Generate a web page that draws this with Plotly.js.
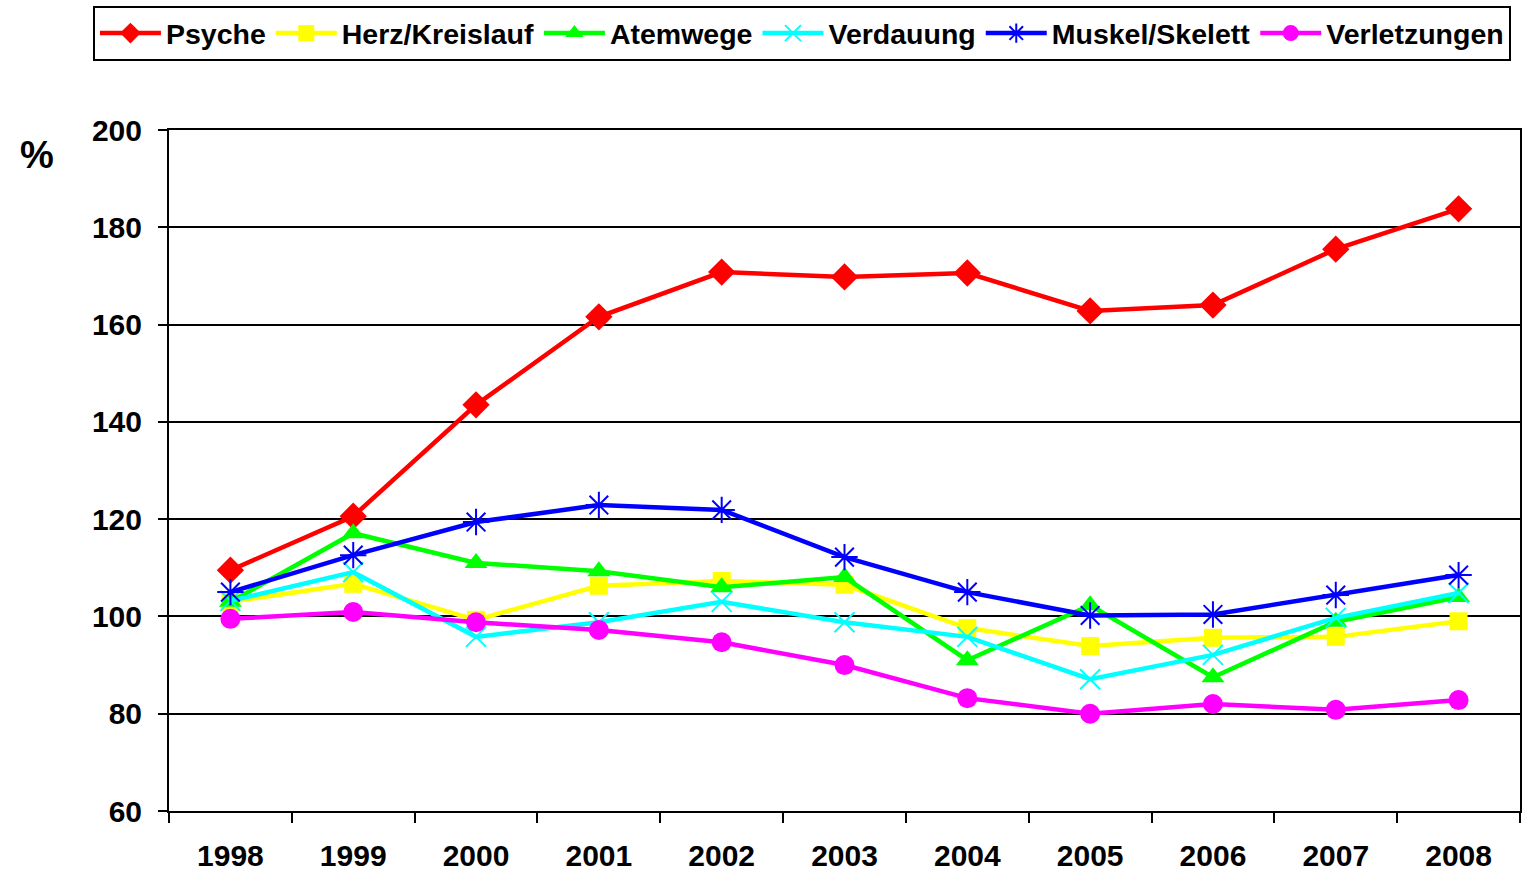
<!DOCTYPE html>
<html>
<head>
<meta charset="utf-8">
<script src="https://cdn.plot.ly/plotly-3.0.1.min.js"></script>
<style>
html,body{margin:0;padding:0;background:#fff;}
#chart{width:1522px;height:872px;}
</style>
</head>
<body>
<div id="chart"></div>
<script>
const years = ["1998","1999","2000","2001","2002","2003","2004","2005","2006","2007","2008"];
const psyche = [109.5,120.6,143.5,161.6,170.8,169.8,170.6,162.8,164.0,175.5,183.8];
const herzKreislauf = [103.0,106.7,99.3,106.3,107.3,106.5,97.6,93.9,95.6,95.8,99.0];
const atemwege = [103.0,117.1,111.0,109.3,106.0,108.1,91.0,102.3,87.5,98.9,104.0];
const verdauung = [103.2,109.1,95.8,98.8,103.0,98.8,95.8,87.1,92.1,99.7,104.8];
const muskelSkelett = [105.0,112.6,119.4,122.9,121.9,112.2,105.0,100.2,100.4,104.4,108.5];
const verletzungen = [99.5,100.9,98.8,97.2,94.7,90.0,83.2,80.0,82.0,80.8,82.8];

const seriesNames = ["Psyche","Herz/Kreislauf","Atemwege","Verdauung","Muskel/Skelett","Verletzungen"];
const seriesData = [psyche, herzKreislauf, atemwege, verdauung, muskelSkelett, verletzungen];
const colors = ["#ff0000","#ffff00","#00ff00","#00ffff","#0000ff","#ff00ff"];
const symbols = ["diamond","square","triangle-up","x-thin-open","asterisk-open","circle"];
const sizes = [21,18,20,20,22,20];

const traces = seriesNames.map((n,i)=>({
  type:"scatter", mode:"lines+markers", name:n,
  x: years, y: seriesData[i],
  line:{color:colors[i], width:4.5},
  marker:{symbol:symbols[i], size:sizes[i], color:colors[i],
          line:{color:colors[i], width:(symbols[i].indexOf("open")>=0?2:0)}}
}));

const fam = "Liberation Sans, Arial, sans-serif";
const tickFont = {family:fam, size:30, color:"#000", weight:"bold"};

const layout = {
  width:1522, height:872,
  margin:{l:169, r:2, t:130, b:61, pad:0, autoexpand:false},
  paper_bgcolor:"#fff", plot_bgcolor:"#fff",
  font: tickFont,
  showlegend:true,
  legend:{orientation:"h", x:-0.0563, xanchor:"left", xref:"paper",
          y:1.182, yanchor:"top", yref:"paper",
          bordercolor:"#000", borderwidth:2, bgcolor:"#fff",
          font:{family:fam, size:28.5, color:"#000", weight:"bold"},
          itemwidth:61, tracegroupgap:0},
  xaxis:{type:"category", tickson:"boundaries", ticks:"outside", ticklen:10, tickwidth:2,
         tickcolor:"#000", showline:true, linecolor:"#000", linewidth:2, mirror:true,
         showgrid:false, zeroline:false, range:[-0.5,10.5],
         tickfont:tickFont, ticklabelstandoff:17, tickangle:0, automargin:false},
  yaxis:{range:[60,200], tickvals:[60,80,100,120,140,160,180,200], ticks:"outside",
         ticklen:9, tickwidth:2, tickcolor:"#000", showline:true, linecolor:"#000",
         linewidth:2, mirror:true, showgrid:true, gridcolor:"#000", gridwidth:2,
         zeroline:false, tickfont:tickFont, ticklabelstandoff:10, automargin:false},
  annotations:[{text:"%", xref:"paper", yref:"paper", x:-0.098, y:0.963,
    xanchor:"center", yanchor:"middle", showarrow:false,
    font:{family:fam, size:38, color:"#000", weight:"bold"}}]
};

Plotly.newPlot("chart", traces, layout, {displayModeBar:false, staticPlot:true});
</script>
</body>
</html>
